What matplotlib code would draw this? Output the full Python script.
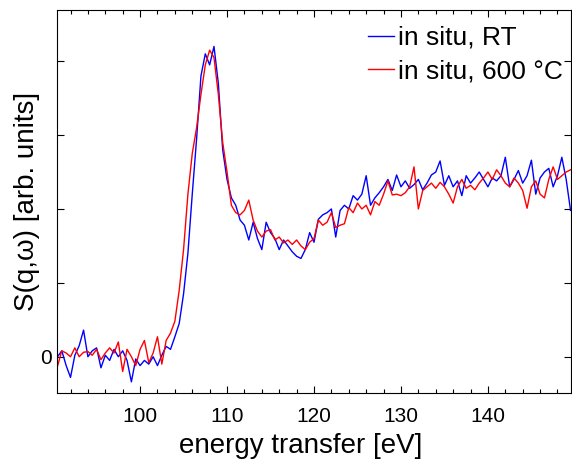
import numpy as np
import matplotlib
matplotlib.use('Agg')
import matplotlib.pyplot as plt
from matplotlib.ticker import MultipleLocator

plt.rcParams['font.family'] = ['Liberation Sans', 'DejaVu Sans']

# energy grid [eV], 0.5 eV steps from 90.5 to 149.5
energy = np.arange(90.5, 149.51, 0.5)

# S(q,w) in situ at room temperature (arb. units)
s_rt = [
    0.0, 0.08, -0.12, -0.28, 0.02, 0.15, 0.36, 0.0, 0.08, 0.12,
    -0.15, 0.02, -0.05, 0.1, 0.0, 0.08, -0.05, -0.34, -0.03, -0.12,
    -0.05, -0.1, 0.0, -0.12, 0.02, 0.14, 0.1, 0.27, 0.45, 0.85,
    1.4, 2.2, 2.95, 3.8, 4.1, 3.95, 4.2, 3.7, 2.8, 2.4,
    2.15, 2.05, 1.85, 1.78, 1.58, 1.82, 1.6, 1.45, 1.82, 1.68,
    1.6, 1.45, 1.58, 1.5, 1.42, 1.36, 1.33, 1.45, 1.68, 1.55,
    1.86, 1.92, 1.95, 2.0, 1.62, 1.98, 2.05, 2.0, 2.18, 2.12,
    2.2, 2.45, 2.05, 2.15, 2.22, 2.3, 2.4, 2.25, 2.46, 2.3,
    2.38, 2.28, 2.33, 2.4, 2.26, 2.35, 2.46, 2.5, 2.65, 2.32,
    2.45, 2.3, 2.38, 2.18, 2.45, 2.35, 2.42, 2.5, 2.4, 2.3,
    2.42, 2.38, 2.45, 2.7, 2.3, 2.4, 2.52, 2.35, 2.45, 2.66,
    2.2, 2.42, 2.5, 2.55, 2.3, 2.45, 2.7, 2.4, 1.98,
]

# S(q,w) in situ at 600 C
s_600 = [
    -0.13, 0.08, 0.05, 0.0, 0.12, 0.0, 0.06, 0.07, 0.02, 0.1,
    -0.04, 0.05, 0.12, 0.05, 0.2, -0.2, 0.1, 0.0, -0.12, 0.1,
    0.22, -0.08, 0.05, 0.27, -0.1, 0.22, 0.32, 0.48, 0.9, 1.45,
    2.2, 2.75, 3.1, 3.55, 3.95, 4.15, 4.05, 3.55, 2.9, 2.5,
    2.05, 1.95, 1.92, 1.98, 2.12, 1.85, 1.7, 1.62, 1.7, 1.72,
    1.58, 1.62, 1.54, 1.58, 1.52, 1.58, 1.5, 1.45, 1.55, 1.6,
    1.85, 1.78, 1.82, 1.95, 1.75, 1.78, 1.8, 2.02, 1.95, 2.08,
    2.0, 2.05, 1.92, 2.1, 2.05, 2.2, 2.38, 2.19, 2.2, 2.18,
    2.22, 2.3, 2.57, 2.0, 2.25, 2.3, 2.35, 2.28, 2.36, 2.3,
    2.2, 2.08, 2.3, 2.4, 2.28, 2.32, 2.26, 2.35, 2.42, 2.5,
    2.4, 2.53, 2.45, 2.35, 2.3, 2.42, 2.35, 2.25, 2.01, 2.3,
    2.38, 2.2, 2.15, 2.4, 2.57, 2.4, 2.45, 2.5, 2.53,
]

fig = plt.figure(figsize=(5.72, 4.65), dpi=100)
ax = fig.add_axes([0.0997, 0.155, 0.8985, 0.823])

ax.plot(energy, s_rt, color='#0000ff', lw=1.0, label='in situ, RT')
ax.plot(energy, s_600, color='#ff0000', lw=1.0, label='in situ, 600 \u00b0C')

ax.set_xlim(90.45, 149.55)
ax.set_ylim(-0.49, 4.69)
ax.set_xticks([100, 110, 120, 130, 140])
ax.xaxis.set_minor_locator(MultipleLocator(2))
ax.set_yticks([0, 1, 2, 3, 4])
ax.set_yticklabels(['0', '', '', '', ''])

ax.tick_params(which='both', direction='in', top=True, right=True,
               labelsize=15, width=0.8)
ax.tick_params(which='major', length=5)
ax.tick_params(which='minor', length=3)
ax.tick_params(axis='x', which='major', pad=10)
for sp in ax.spines.values():
    sp.set_linewidth(0.8)

ax.set_xlabel('energy transfer [eV]', fontsize=20)
ax.xaxis.set_label_coords(0.475, -0.105, transform=ax.transAxes)
ax.xaxis.label.set_va('top')
ax.set_ylabel('S(q,\u03c9) [arb. units]', fontsize=20, labelpad=0)

ax.legend(loc='upper right', bbox_to_anchor=(1.0, 0.98), frameon=False,
          fontsize=19, handlelength=1.0, handletextpad=0.15,
          labelspacing=0.35, borderaxespad=0.0, borderpad=0.3)

fig.savefig('out.png', dpi=100)
